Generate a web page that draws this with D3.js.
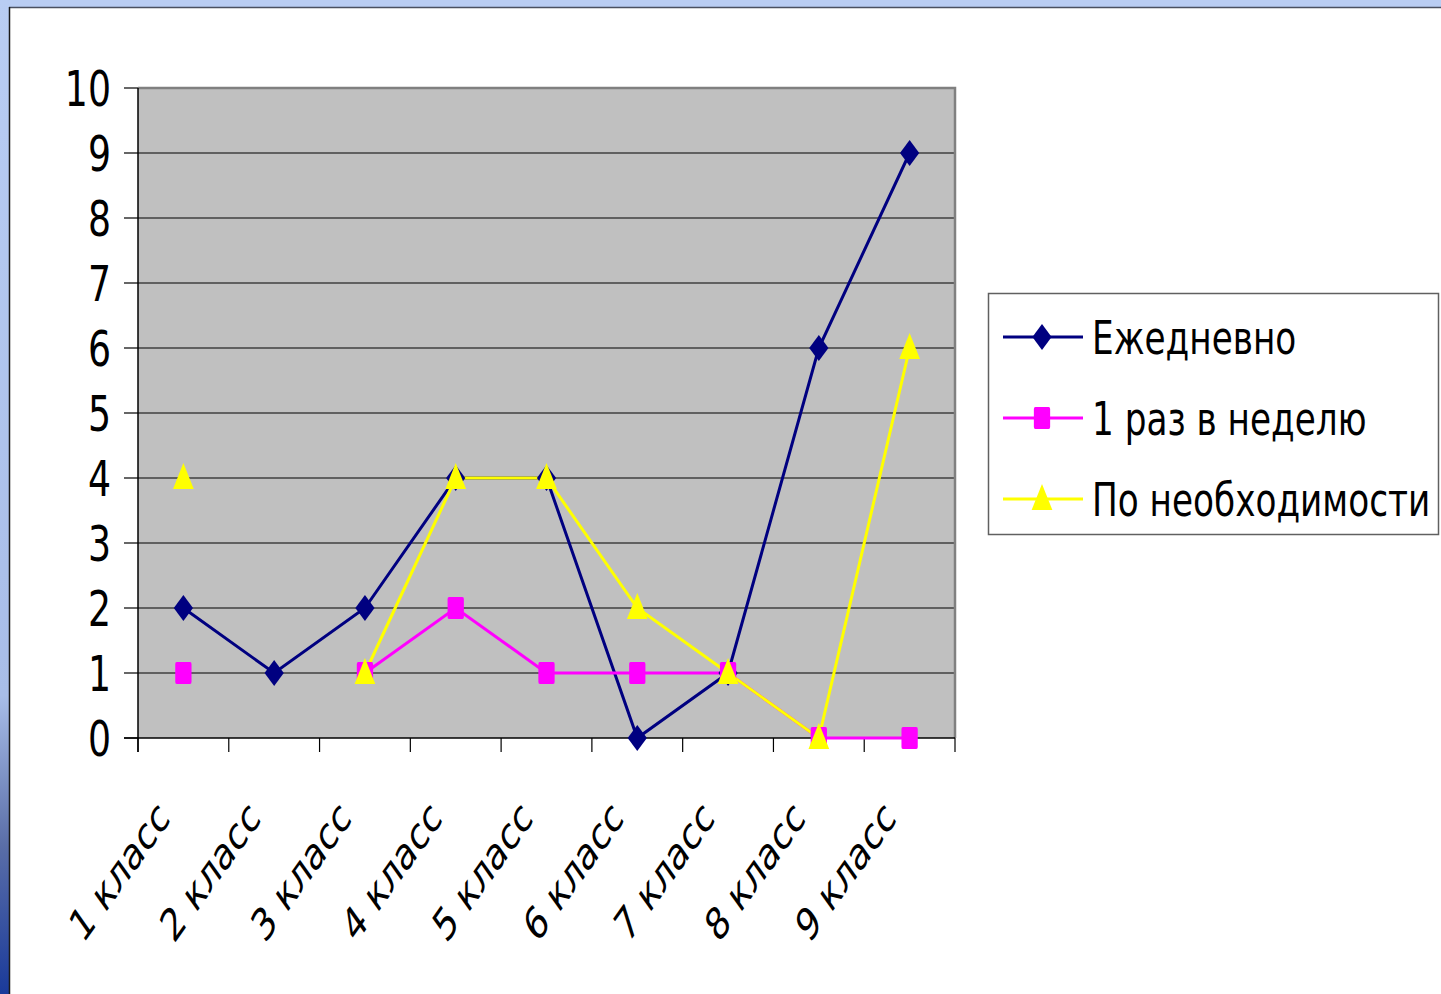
<!DOCTYPE html>
<html>
<head>
<meta charset="utf-8">
<script src="https://cdn.jsdelivr.net/npm/d3@7/dist/d3.min.js"></script>
<style>
  html, body { margin: 0; padding: 0; background: #fff; }
  svg { display: block; }
  text { font-family: "DejaVu Sans", Verdana, sans-serif; fill: #000; }
</style>
</head>
<body>
<div id="chart"></div>
<script>
var categories = ["1 класс", "2 класс", "3 класс", "4 класс", "5 класс", "6 класс", "7 класс", "8 класс", "9 класс"];
var seriesNames = ["Ежедневно", "1 раз в неделю", "По необходимости"];
var daily = [2, 1, 2, 4, 4, 0, 1, 6, 9];
var weekly = [1, null, 1, 2, 1, 1, 1, 0, 0];
var needed = [4, null, 1, 4, 4, 2, 1, 0, 6];
var yTicks = [0, 1, 2, 3, 4, 5, 6, 7, 8, 9, 10];
var colors = ["#000080", "#ff00ff", "#ffff00"];
var shapes = ["diamond", "square", "triangle"];

(function() {
var W = 1441, H = 994;
var sx = 0.74; // the picture is squeezed sideways

var svg = d3.select("#chart").append("svg")
    .attr("width", W)
    .attr("height", H);

// slide frame on the left and top
var grad = svg.append("defs").append("linearGradient")
    .attr("id", "side").attr("x1", 0).attr("y1", 0).attr("x2", 0).attr("y2", 1);
grad.append("stop").attr("offset", "0").attr("stop-color", "#b9cdf3");
grad.append("stop").attr("offset", "0.7").attr("stop-color", "#a8bde8");
grad.append("stop").attr("offset", "0.85").attr("stop-color", "#5a6ea8");
grad.append("stop").attr("offset", "1").attr("stop-color", "#1a3a9a");
svg.append("rect").attr("x", 0).attr("y", 0).attr("width", W).attr("height", 8).attr("fill", "#b9cdf3");
svg.append("rect").attr("x", 0).attr("y", 0).attr("width", 9).attr("height", H).attr("fill", "url(#side)");
svg.append("line").attr("x1", 9).attr("x2", W).attr("y1", 7.5).attr("y2", 7.5).attr("stroke", "#4a5060").attr("stroke-width", 1.5);
svg.append("line").attr("x1", 9.5).attr("x2", 9.5).attr("y1", 7).attr("y2", H).attr("stroke", "#1a1a1a").attr("stroke-width", 1.5);

var pLeft = 138, pRight = 955, pTop = 88, pBottom = 738;

var x = d3.scaleBand().domain(categories).range([pLeft, pRight]);
var y = d3.scaleLinear().domain([0, 10]).range([pBottom, pTop]);

// plot area
svg.append("rect")
    .attr("x", pLeft).attr("y", pTop)
    .attr("width", pRight - pLeft).attr("height", pBottom - pTop)
    .attr("fill", "#c0c0c0");

// grid
svg.append("g").selectAll("line")
    .data(yTicks.slice(1))
    .enter().append("line")
    .attr("x1", pLeft).attr("x2", pRight)
    .attr("y1", function(d) { return y(d); })
    .attr("y2", function(d) { return y(d); })
    .attr("stroke", "#000")
    .attr("stroke-width", 1.2);

// plot border top/right
svg.append("path")
    .attr("d", "M" + pLeft + "," + pTop + "H" + pRight + "V" + pBottom)
    .attr("fill", "none")
    .attr("stroke", "#808080")
    .attr("stroke-width", 2.5);

// y axis
var yAxis = svg.append("g");
yAxis.append("line")
    .attr("x1", pLeft).attr("x2", pLeft).attr("y1", pTop).attr("y2", pBottom + 14)
    .attr("stroke", "#000").attr("stroke-width", 1.5);
yAxis.selectAll(".tk").data(yTicks).enter().append("line")
    .attr("x1", pLeft - 14).attr("x2", pLeft)
    .attr("y1", function(d) { return y(d); })
    .attr("y2", function(d) { return y(d); })
    .attr("stroke", "#000").attr("stroke-width", 1.2);
yAxis.selectAll("text").data(yTicks).enter().append("text")
    .attr("transform", function(d) { return "translate(" + (pLeft - 27) + "," + y(d) + ") scale(" + sx + ",1)"; })
    .attr("text-anchor", "end")
    .attr("dy", "0.36em")
    .attr("font-size", 49)
    .text(function(d) { return d; });

// x axis
var xAxis = svg.append("g");
xAxis.append("line")
    .attr("x1", pLeft - 14).attr("x2", pRight).attr("y1", pBottom).attr("y2", pBottom)
    .attr("stroke", "#000").attr("stroke-width", 1.5);
var edges = categories.map(function(c) { return x(c); }).concat([pRight]);
xAxis.selectAll(".tk").data(edges).enter().append("line")
    .attr("x1", function(d) { return d; })
    .attr("x2", function(d) { return d; })
    .attr("y1", pBottom).attr("y2", pBottom + 14)
    .attr("stroke", "#000").attr("stroke-width", 1.2);
xAxis.selectAll("text").data(categories).enter().append("text")
    .attr("transform", function(d) {
        return "translate(" + (x(d) + x.bandwidth() / 2 - 12) + "," + 820 + ") scale(0.71,1) rotate(-45)";
    })
    .attr("text-anchor", "end")
    .attr("font-size", 45)
    .text(function(d) { return d; });

// markers
function marker(sel, shape, color) {
    if (shape === "diamond") {
        sel.append("path").attr("d", "M0,-13L13,0L0,13L-13,0Z").attr("fill", color);
    } else if (shape === "square") {
        sel.append("rect").attr("x", -11).attr("y", -11).attr("width", 22).attr("height", 22).attr("rx", 2).attr("fill", color);
    } else {
        sel.append("path").attr("d", "M0,-15L14,11L-14,11Z").attr("fill", color);
    }
}

var allSeries = [daily, weekly, needed];
var line = d3.line()
    .defined(function(d) { return d !== null; })
    .x(function(d, i) { return x(categories[i]) + x.bandwidth() / 2; })
    .y(function(d) { return y(d); });

allSeries.forEach(function(vals, s) {
    svg.append("path")
        .datum(vals)
        .attr("d", line)
        .attr("fill", "none")
        .attr("stroke", colors[s])
        .attr("stroke-width", 3);
});
allSeries.forEach(function(vals, s) {
    svg.append("g").selectAll("g")
        .data(vals.map(function(v, i) { return { v: v, i: i }; }).filter(function(d) { return d.v !== null; }))
        .enter().append("g")
        .attr("transform", function(d) {
            return "translate(" + (x(categories[d.i]) + x.bandwidth() / 2) + "," + y(d.v) + ") scale(" + sx + ",1)";
        })
        .each(function() { marker(d3.select(this), shapes[s], colors[s]); });
});

// legend
var lg = svg.append("g");
lg.append("rect")
    .attr("x", 988.5).attr("y", 293.5).attr("width", 450).attr("height", 241)
    .attr("fill", "#fff").attr("stroke", "#606060").attr("stroke-width", 1.5);
var rows = lg.selectAll(".row").data(seriesNames).enter().append("g")
    .attr("transform", function(d, i) { return "translate(0," + (337 + i * 81) + ")"; });
rows.append("line")
    .attr("x1", 1003).attr("x2", 1083).attr("y1", 0).attr("y2", 0)
    .attr("stroke", function(d, i) { return colors[i]; })
    .attr("stroke-width", 3);
rows.append("g")
    .attr("transform", "translate(1042,0) scale(" + sx + ",1)")
    .each(function(d, i) { marker(d3.select(this), shapes[i], colors[i]); });
rows.append("text")
    .attr("transform", "translate(1092,0) scale(0.745,1)")
    .attr("dy", "0.36em")
    .attr("font-size", 46)
    .text(function(d) { return d; });
})();
</script>
</body>
</html>
